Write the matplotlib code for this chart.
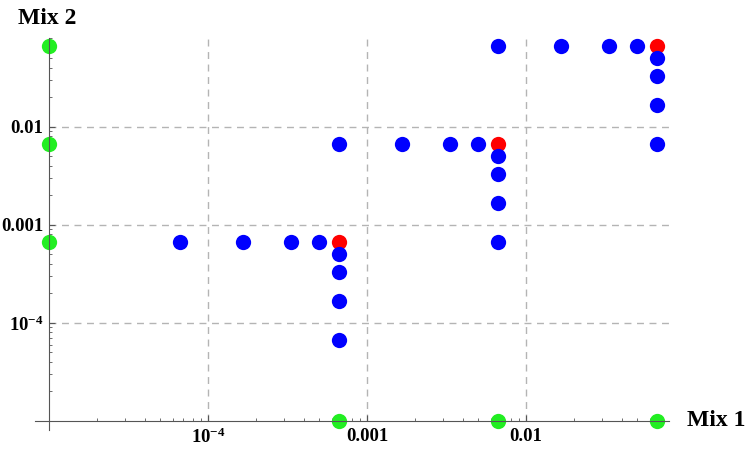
import matplotlib
matplotlib.use("Agg")
import matplotlib.pyplot as plt
from matplotlib.ticker import FixedLocator, NullFormatter

plt.rcParams['font.family'] = ['Liberation Serif', 'DejaVu Serif']
plt.rcParams['mathtext.fontset'] = 'custom'
plt.rcParams['mathtext.rm'] = 'Liberation Serif:bold'
plt.rcParams['mathtext.bf'] = 'Liberation Serif:bold'
plt.rcParams['mathtext.it'] = 'Liberation Serif:bold'

# data
blue_x = [6.67e-5, 1.67e-4, 3.33e-4, 5.0e-4,
          6.67e-4, 6.67e-4, 6.67e-4, 6.67e-4,
          6.67e-4, 1.67e-3, 3.33e-3, 5.0e-3,
          6.67e-3, 6.67e-3, 6.67e-3, 6.67e-3,
          6.67e-3, 0.0167, 0.0333, 0.05,
          0.0667, 0.0667, 0.0667, 0.0667]
blue_y = [6.67e-4, 6.67e-4, 6.67e-4, 6.67e-4,
          5.0e-4, 3.33e-4, 1.67e-4, 6.67e-5,
          6.67e-3, 6.67e-3, 6.67e-3, 6.67e-3,
          5.0e-3, 3.33e-3, 1.67e-3, 6.67e-4,
          0.0667, 0.0667, 0.0667, 0.0667,
          0.05, 0.0333, 0.0167, 6.67e-3]
red_x = [6.67e-4, 6.67e-3, 0.0667]
red_y = [6.67e-4, 6.67e-3, 0.0667]
green_x = [1e-5, 1e-5, 1e-5, 6.67e-4, 6.67e-3, 0.0667]
green_y = [6.67e-4, 6.67e-3, 0.0667, 1e-5, 1e-5, 1e-5]

tick_vals = [1e-4, 1e-3, 1e-2]
tick_labels = [r'$10^{-4}$', '0.001', '0.01']

W, H = 747, 454
fig = plt.figure(figsize=(W / 100, H / 100), dpi=100)
ax = fig.add_axes([35 / W, (H - 430) / H, (669 - 35) / W, (430 - 38) / H])
ax.set_xscale('log')
ax.set_yscale('log')
ax.set_xlim(10 ** -5.088, 10 ** -1.1006)
ax.set_ylim(10 ** -5.092, 10 ** -1.092)

# dashed grid starting at the axes origin
grid_kw = dict(color='#b4b4b4', lw=1.0, linestyle=(0, (5, 4)), zorder=0)
ax.vlines(tick_vals, 1e-5, ax.get_ylim()[1], **grid_kw)
ax.hlines(tick_vals, 1e-5, ax.get_xlim()[1], **grid_kw)

ms = 11
ax.plot(red_x, red_y, 'o', color='#ff0000', ms=ms, mec='none', zorder=2, clip_on=False)
ax.plot(blue_x, blue_y, 'o', color='#0000ff', ms=ms, mec='none', zorder=2, clip_on=False)
ax.plot(green_x, green_y, 'o', color='#22ee22', ms=ms, mec='none', zorder=2, clip_on=False)

for s in ['top', 'right']:
    ax.spines[s].set_visible(False)
ax.spines['left'].set_position(('data', 1e-5))
ax.spines['bottom'].set_position(('data', 1e-5))
for s in ['left', 'bottom']:
    ax.spines[s].set_color('#555555')
    ax.spines[s].set_linewidth(0.8)
    ax.spines[s].set_zorder(3)

# minor log ticks only from the origin (1e-5) upward
minor = [m * 10.0 ** e for e in range(-5, -1) for m in range(2, 10)]
for axis in (ax.xaxis, ax.yaxis):
    axis.set_major_locator(FixedLocator(tick_vals))
    axis.set_minor_locator(FixedLocator(minor))
    axis.set_minor_formatter(NullFormatter())
ax.set_xticklabels(tick_labels)
ax.set_yticklabels(tick_labels)
ax.tick_params(which='major', direction='in', length=4, width=0.8, color='#555555',
               labelsize=13.5)
ax.tick_params(axis='x', which='major', pad=5)
ax.tick_params(axis='y', which='major', pad=4)
ax.tick_params(which='minor', direction='in', length=2.5, width=0.6, color='#555555')
for lab in ax.get_xticklabels() + ax.get_yticklabels():
    lab.set_fontweight('bold')

fig.text(687 / W, 1 - 421 / H, 'Mix 1', fontsize=17, fontweight='bold', va='center', ha='left')
fig.text(18 / W, 1 - 18 / H, 'Mix 2', fontsize=17, fontweight='bold', va='center', ha='left')

fig.savefig('out.png', dpi=100)
